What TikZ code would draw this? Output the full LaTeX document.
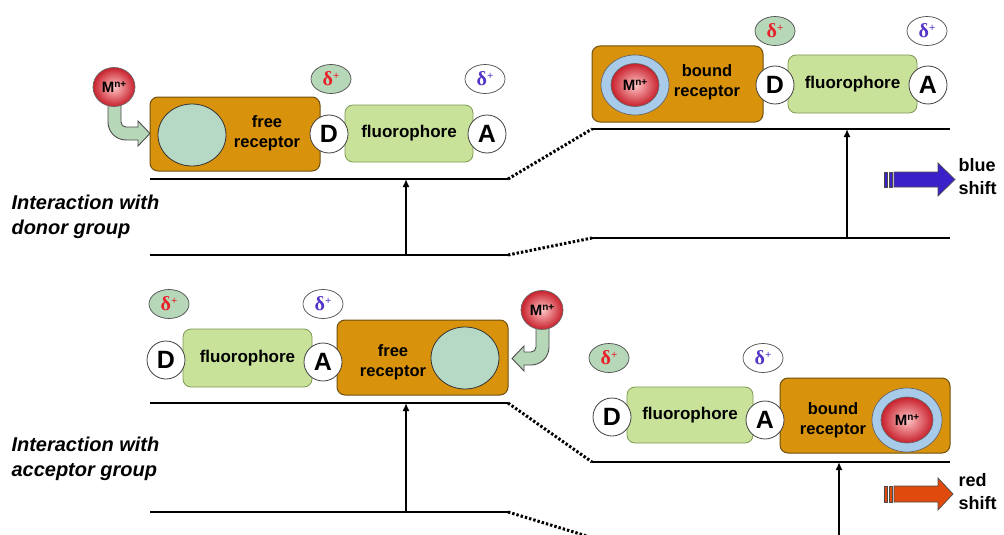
\documentclass[tikz,border=0pt]{standalone}
\usepackage{fontspec}
\setmainfont{Liberation Sans}
\newfontfamily\greekfont{Liberation Serif}
\usetikzlibrary{arrows.meta,shapes.geometric}
\definecolor{orng}{HTML}{D8920C}
\definecolor{orngd}{HTML}{6E5010}
\definecolor{fluo}{HTML}{C8E29A}
\definecolor{fluod}{HTML}{7F9A55}
\definecolor{cav}{HTML}{B6D9C6}
\definecolor{ringc}{HTML}{A9CBEA}
\definecolor{mred}{HTML}{C8202C}
\definecolor{dgreen}{HTML}{B7D7B9}
\definecolor{dred}{HTML}{E8202A}
\definecolor{dblue}{HTML}{5535C8}
\definecolor{bshift}{HTML}{3A20C8}
\definecolor{rshift}{HTML}{E04A0C}
\newcommand{\mion}{M\raisebox{4.5pt}{\fontsize{10}{10}\selectfont n+}}
\newcommand{\dplus}{{\greekfont\bfseries\fontsize{20}{20}\selectfont δ\raisebox{6pt}{\fontsize{11}{11}\selectfont +}}}
\tikzset{
  recbox/.style={draw=orngd, line width=1pt, fill=orng, rounded corners=8pt, inner sep=0pt},
  fluobox/.style={draw=fluod, line width=0.8pt, fill=fluo, rounded corners=8pt, inner sep=0pt,
    font=\fontsize{17}{20}\selectfont\bfseries},
  endgrp/.style={circle, draw=black!75, fill=white, line width=0.8pt, minimum size=38pt, inner sep=0pt,
    font=\fontsize{25}{25}\selectfont\bfseries},
  dposg/.style={ellipse, draw=black!70, fill=dgreen, line width=0.7pt, minimum width=40pt, minimum height=29pt, inner sep=0pt, text=dred},
  dposw/.style={ellipse, draw=black!70, fill=white, line width=0.7pt, minimum width=40pt, minimum height=29pt, inner sep=0pt, text=dblue},
  cavity/.style={ellipse, draw=black!80, fill=cav, line width=0.8pt, inner sep=0pt},
  metal/.style={ellipse, draw=black!60, line width=0.7pt, inner color=red!22!white, outer color=mred, inner sep=0pt,
    font=\fontsize{15}{15}\selectfont\bfseries},
  ringst/.style={ellipse, draw=black!60, line width=0.7pt, fill=ringc, inner sep=0pt},
  lbl/.style={font=\fontsize{16.5}{20}\selectfont\bfseries, align=center},
  side/.style={font=\fontsize{20}{25}\selectfont\bfseries\itshape, align=left, anchor=west},
  shiftlbl/.style={font=\fontsize{18}{23}\selectfont\bfseries, align=left, anchor=west},
  level/.style={line width=2.9pt},
  trans/.style={line width=3pt, dash pattern=on 2.4pt off 2pt},
  exc/.style={line width=2.4pt, -{Latex[length=8pt,width=7pt]}},
  bendarrow/.style={draw=black!70, line width=0.9pt, fill=dgreen}
}
\begin{document}
\begin{tikzpicture}[x=1pt,y=-1pt]
\useasboundingbox (0,0) rectangle (1004,535);
\fill[white] (0,0) rectangle (1004,535);

% ---------- level coordinates ----------
\coordinate (tlU1) at (150,179); \coordinate (tlU2) at (508,179);
\coordinate (tlL1) at (150,255); \coordinate (tlL2) at (508,255);
\coordinate (trU1) at (592,129); \coordinate (trU2) at (950,129);
\coordinate (trL1) at (592,238); \coordinate (trL2) at (950,238);
\coordinate (blU1) at (150,403); \coordinate (blU2) at (508,403);
\coordinate (blL1) at (150,512); \coordinate (blL2) at (508,512);
\coordinate (brU1) at (592,462); \coordinate (brU2) at (950,462);
\coordinate (brL1) at (600,540);
\coordinate (aTLb) at (406,255); \coordinate (aTLt) at (406,179);
\coordinate (aTRb) at (847,238); \coordinate (aTRt) at (847,129);
\coordinate (aBLb) at (406,512); \coordinate (aBLt) at (406,403);
\coordinate (aBRb) at (839,540); \coordinate (aBRt) at (839,462);

\draw[level] (tlU1) -- (tlU2); \draw[level] (tlL1) -- (tlL2);
\draw[level] (trU1) -- (trU2); \draw[level] (trL1) -- (trL2);
\draw[level] (blU1) -- (blU2); \draw[level] (blL1) -- (blL2);
\draw[level] (brU1) -- (brU2);
\draw[trans] (tlU2) -- (trU1); \draw[trans] (tlL2) -- (trL1);
\draw[trans] (blU2) -- (brU1); \draw[trans] (blL2) -- (brL1);
\draw[exc] (aTLb) -- (aTLt); \draw[exc] (aTRb) -- (aTRt);
\draw[exc] (aBLb) -- (aBLt); \draw[exc] (aBRb) -- (aBRt);

% ---------- side labels ----------
\node[side] (sideD) at (8,217) {Interaction with\\donor group};
\node[side] (sideA) at (8,459) {Interaction with\\acceptor group};

% ================= TOP LEFT =================
\path[bendarrow] (108,100) -- (108,122) .. controls (108,132) and (116,140) .. (126,140)
  -- (138,140) -- (138,146) -- (150,133.5) -- (138,121) -- (138,127) -- (126,127)
  .. controls (123,127) and (121,125) .. (121,122) -- (121,100) -- cycle;
\node[metal, minimum width=42pt, minimum height=39pt] (mTL) at (114,87) {\mion};
\node[recbox, minimum width=170pt, minimum height=74pt] (recTL) at (235,134) {};
\node[cavity, minimum width=68pt, minimum height=62pt] (cavTL) at (192,135) {};
\node[lbl] (recTLt) at (267,133) {free\\receptor};
\node[fluobox, minimum width=128pt, minimum height=57pt] (fluTL) at (409,133.5) {fluorophore};
\node[endgrp] (dTL) at (329,134) {D};
\node[endgrp] (aTL) at (487,134) {A};
\node[dposg] (pdTL) at (331,79) {\dplus};
\node[dposw] (paTL) at (485,79) {\dplus};

% ================= TOP RIGHT =================
\node[recbox, minimum width=171pt, minimum height=76pt] (recTR) at (677.5,84) {};
\node[ringst, minimum width=68pt, minimum height=60pt] (ringTR) at (635,85) {};
\node[metal, minimum width=48pt, minimum height=43pt] (mTR) at (635,85) {\mion};
\node[lbl] (recTRt) at (707,82) {bound\\receptor};
\node[fluobox, minimum width=129pt, minimum height=58pt] (fluTR) at (852.5,84) {fluorophore};
\node[endgrp] (dTR) at (775,85) {D};
\node[endgrp] (aTR) at (928,85) {A};
\node[dposg] (pdTR) at (775,31) {\dplus};
\node[dposw] (paTR) at (927,31) {\dplus};

% blue shift arrow
\path[draw=black!70, line width=0.7pt, fill=bshift] (884,172) rectangle (887,187);
\path[draw=black!70, line width=0.7pt, fill=bshift] (889,172) rectangle (892,187);
\path[draw=black!70, line width=0.7pt, fill=bshift] (894,172) -- (938,172) -- (938,163) -- (955,179.5)
  -- (938,196) -- (938,187) -- (894,187) -- cycle;
\node[shiftlbl] (blueT) at (955,176.5) {blue\\shift};

% ================= BOTTOM LEFT =================
\path[bendarrow] (549,326) -- (549,347) .. controls (549,357) and (541,365) .. (531,365)
  -- (524,365) -- (524,371) -- (512,358.5) -- (524,346) -- (524,352) -- (531,352)
  .. controls (534,352) and (536,350) .. (536,347) -- (536,326) -- cycle;
\node[metal, minimum width=42pt, minimum height=39pt] (mBL) at (542,310) {\mion};
\node[recbox, minimum width=171pt, minimum height=75pt] (recBL) at (422.5,357.5) {};
\node[cavity, minimum width=68pt, minimum height=62pt] (cavBL) at (465,358) {};
\node[lbl] (recBLt) at (393,362) {free\\receptor};
\node[fluobox, minimum width=129pt, minimum height=58pt] (fluBL) at (247.5,358) {fluorophore};
\node[endgrp] (dBL) at (166,360) {D};
\node[endgrp] (aBL) at (323,362) {A};
\node[dposg] (pdBL) at (169,304) {\dplus};
\node[dposw] (paBL) at (323,304) {\dplus};

% ================= BOTTOM RIGHT =================
\node[recbox, minimum width=170pt, minimum height=75pt] (recBR) at (865,415.5) {};
\node[ringst, minimum width=70pt, minimum height=64pt] (ringBR) at (907,420) {};
\node[metal, minimum width=52pt, minimum height=46pt] (mBR) at (907,420) {\mion};
\node[lbl] (recBRt) at (833,420) {bound\\receptor};
\node[fluobox, minimum width=126pt, minimum height=56pt] (fluBR) at (690,415) {fluorophore};
\node[endgrp] (dBR) at (612,417) {D};
\node[endgrp] (aBR) at (765,420) {A};
\node[dposg] (pdBR) at (609,358) {\dplus};
\node[dposw] (paBR) at (763,358) {\dplus};

% red shift arrow
\path[draw=black!70, line width=0.7pt, fill=rshift] (884,486) rectangle (887,502);
\path[draw=black!70, line width=0.7pt, fill=rshift] (889,486) rectangle (892,502);
\path[draw=black!70, line width=0.7pt, fill=rshift] (894,486) -- (938,486) -- (938,478) -- (953,494)
  -- (938,510) -- (938,502) -- (894,502) -- cycle;
\node[shiftlbl] (redT) at (955,491.5) {red\\shift};
\end{tikzpicture}
\end{document}
